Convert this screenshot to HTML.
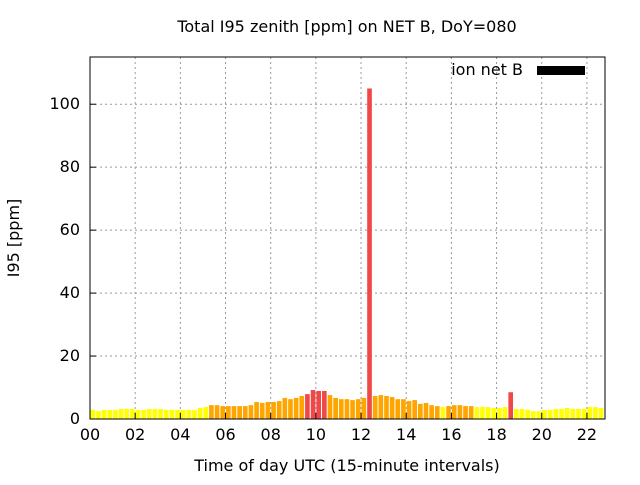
<!DOCTYPE html>
<html><head><meta charset="utf-8"><style>body{margin:0;background:#fff}svg{font-family:"DejaVu Sans","Liberation Sans",sans-serif}</style></head>
<body>
<svg id="c" width="640" height="480">
<rect x="0" y="0" width="640" height="480" fill="#fff"/>
<text x="347" y="32" font-size="16" text-anchor="middle">Total I95 zenith [ppm] on NET B, DoY=080</text>
<text x="347" y="471" font-size="16" text-anchor="middle">Time of day UTC (15-minute intervals)</text>
<text transform="translate(19,238) rotate(-90)" font-size="16" text-anchor="middle">I95 [ppm]</text>
<g id="grid"></g><g id="bars"></g><g id="axes"></g>
<g>
<text x="523" y="75" font-size="16" text-anchor="end">ion net B</text>
<rect x="537" y="66" width="48" height="9" fill="#000"/>
</g>
<rect x="90" y="57" width="515" height="362" fill="none" stroke="#000" stroke-width="1"/>
</svg>
<script>
const values=[2.9,2.5,2.9,2.9,2.9,3.2,3.2,3.2,2.9,2.9,3.2,3.2,3.2,2.9,2.9,2.9,2.9,2.9,2.9,3.5,3.8,4.4,4.4,4.1,4.1,4.1,4.1,4.1,4.4,5.4,5.1,5.4,5.4,5.7,6.7,6.3,6.7,7.3,7.9,9.2,8.9,8.9,7.6,6.7,6.3,
6.3,6.0,6.3,6.7,105,7.3,7.6,7.3,7.0,6.3,6.3,5.7,6.0,4.8,5.1,4.4,4.1,3.8,4.1,4.4,4.4,4.1,4.1,3.8,3.8,3.8,3.5,3.5,3.8,8.5,3.2,3.2,2.9,2.5,2.5,2.9,2.9,3.2,3.2,3.5,3.2,3.2,3.2,3.8,3.8,3.5];
const yTicks=[0,20,40,60,80,100];
const xTicks=[0,2,4,6,8,10,12,14,16,18,20,22];
const xTickLabels=["00","02","04","06","08","10","12","14","16","18","20","22"];
const NS="http://www.w3.org/2000/svg";
const X0=90,X1=605,Y0=419,Y1=57,XMAX=22.8,YMAX=115;
const xs=h=>X0+(X1-X0)*h/XMAX;
const ys=v=>Y0-(Y0-Y1)*v/YMAX;
function mk(t,a,p){const e=document.createElementNS(NS,t);for(const k in a)e.setAttribute(k,a[k]);p.appendChild(e);return e;}
const grid=document.getElementById('grid'),bars=document.getElementById('bars'),axes=document.getElementById('axes');
yTicks.forEach(v=>{
 const y=ys(v);
 if(v>0){const g=mk('line',{x1:X0,x2:X1,y1:y,y2:y,stroke:'#999','stroke-dasharray':'2,3'},grid);
 
 }
 const t=mk('line',{x1:X0,x2:X0+6,y1:y,y2:y,stroke:'#000'},axes);
 
 
 const l=mk('text',{x:X0-10,y:y+5,'font-size':16,'text-anchor':'end'},axes);l.textContent=v;
 
 
});
xTicks.forEach((h,i)=>{
 const x=xs(h);
 if(h>0){const g=mk('line',{x1:x,x2:x,y1:Y0,y2:Y1,stroke:'#999','stroke-dasharray':'2,3'},grid);
 
 }
 const t=mk('line',{x1:x,x2:x,y1:Y0,y2:Y0-6,stroke:'#000'},axes);
 
 
 const l=mk('text',{x:x,y:Y0+21,'font-size':16,'text-anchor':'middle'},axes);l.textContent=xTickLabels[i];
 
 
});
values.forEach((v,i)=>{
 const a=xs(i*0.25),b=xs((i+1)*0.25);
 const col=v>7.8?'#f04848':(v>3.9?'#ffa500':'#ffff00');
 const r=mk('rect',{x:a+0.5,y:ys(v),width:b-a-1,height:Y0-ys(v),fill:col},bars);
 
 
});
</script>
</body></html>
